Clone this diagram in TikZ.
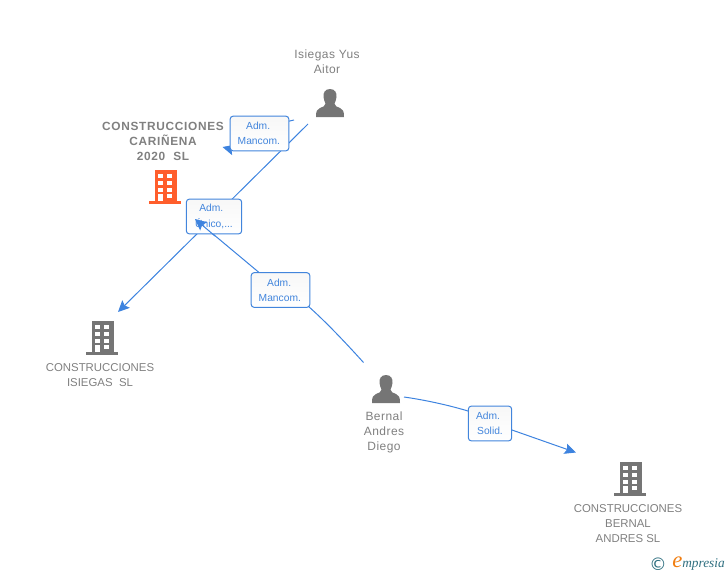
\documentclass[tikz,border=0pt]{standalone}
\usepackage{fontspec}
\setmainfont{Liberation Sans}
\newfontfamily\dejavu{DejaVu Sans}
\newfontfamily\logofont{Liberation Serif}
\newfontfamily\mixedfont[LetterSpace=3.8]{Liberation Sans}
\newfontfamily\boldspaced[LetterSpace=5.7]{Liberation Sans Bold}
\usetikzlibrary{arrows.meta}
\definecolor{linkblue}{HTML}{3D83DF}
\definecolor{labelblue}{HTML}{4285DC}
\definecolor{txtgray}{HTML}{808080}
\definecolor{icongray}{HTML}{757575}
\definecolor{orgorange}{HTML}{FF5E2C}
\definecolor{logoteal}{HTML}{2F6F80}
\definecolor{logoorange}{HTML}{F07D10}
\tikzset{
  x=0.75pt,y=-0.75pt,
  link/.style={draw=linkblue,line width=0.75pt},
  linkarrow/.style={link,-{Stealth[length=8.5pt,width=8pt,inset=1.5pt]}},
  rolebox/.style={draw=labelblue,line width=0.75pt,rounded corners=2.2pt,top color=black!3,bottom color=white,
    minimum height=26pt,inner sep=0pt,text=labelblue,font=\fontsize{7.7pt}{11.2pt}\selectfont,align=center},
  capstext/.style={text=txtgray,font=\fontsize{8.55pt}{11.25pt}\selectfont,align=center,inner sep=0pt},
  mixedtext/.style={text=txtgray,font=\mixedfont\fontsize{9pt}{11.25pt}\selectfont,align=center,inner sep=0pt},
  boldtext/.style={text=txtgray,font=\boldspaced\fontsize{8.9pt}{11.25pt}\selectfont,align=center,inner sep=0pt},
  iconanchor/.style={inner sep=0pt,minimum size=0pt},
  pics/building/.style={code={
    \fill[#1] (5.5,0) rectangle (27.5,31);
    \fill[#1] (0,31) rectangle (32,34);
    \foreach \wx in {9,18}{\foreach \wy in {4,11,18}{\fill[white] (\wx,\wy) rectangle +(5,4);}}
    \fill[white] (9,24) rectangle (14,31);
    \fill[white] (18,24) rectangle (23,28);
  }},
  pics/person/.style={code={
    \fill[icongray] (14,0) .. controls (9,0) and (7,4) .. (7.5,8) .. controls (7.8,11) and (8.8,13) .. (9.5,14.5)
      .. controls (9.5,17) and (7,18) .. (4,19) .. controls (1,20) and (0,22) .. (0,28)
      -- (28,28) .. controls (28,22) and (27,20) .. (24,19) .. controls (21,18) and (18.5,17) .. (18.5,14.5)
      .. controls (19.2,13) and (20.2,11) .. (20.5,8) .. controls (21,4) and (19,0) .. (14,0) -- cycle;
  }}
}
\begin{document}
\begin{tikzpicture}
\useasboundingbox (0,0) rectangle (728,575);
% anchors of the icons
\node[iconanchor] (isiegasyus) at (330,103) {};
\node[iconanchor] (bernaldiego) at (386,389) {};
\node[iconanchor] (carinena) at (165,187) {};
\node[iconanchor] (isiegassl) at (102,338) {};
\node[iconanchor] (bernalsl) at (630,479) {};
% connector free ends
\coordinate (a1) at (294,120);
\coordinate (a1t) at (222.5,147);
\coordinate (a2) at (308,124);
\coordinate (a2t) at (118,312);
\coordinate (a3) at (363.5,362.5);
\coordinate (a3t) at (195,219);
\coordinate (a4) at (404,397);
\coordinate (a4t) at (576,452.5);
\coordinate (m3) at (280,290);
\coordinate (m4) at (490,423);
% connectors
\draw[linkarrow] (a1) .. controls (270,124) and (245,153) .. (a1t);
\draw[linkarrow] (a2) -- (a2t);
\draw[link] (a3) .. controls (345,342) and (325,321) .. (308,306) -- (m3) -- (a3t);
\draw[link] (a4) .. controls (425,400) and (448,405) .. (468,411) -- (m4) -- (512,430);
\draw[linkarrow] (512,430) -- (a4t);
% role boxes
\node[rolebox,minimum width=44pt] (r1) at (259.5,133.5) {\raisebox{-0.7pt}{\hspace*{-2pt}Adm.}\\\raisebox{-0.7pt}{\hspace*{-1pt}Mancom.}};
\node[rolebox,minimum width=41.5pt] (r2) at (214,216.5) {\raisebox{-0.7pt}{\hspace*{-4pt}Adm.}\\\raisebox{-1.2pt}{Único,...}};
\node[rolebox,minimum width=44pt] (r3) at (280.5,290) {\raisebox{-0.7pt}{\hspace*{-2pt}Adm.}\\\raisebox{-0.7pt}{\hspace*{-1pt}Mancom.}};
\node[rolebox,minimum width=32.5pt] (r4) at (490,423.5) {\raisebox{-0.7pt}{\hspace*{-3pt}Adm.}\\\raisebox{-0.7pt}{Solid.}};
% arrowhead lying over the box
\draw[linkarrow] (215,236) -- (a3t);
% icons
\pic at (149,170) {building=orgorange};
\pic at (86,321) {building=icongray};
\pic at (614,462) {building=icongray};
\pic at (316,89) {person};
\pic at (372,375) {person};
% names
\node[mixedtext] (n1) at (327,62) {Isiegas Yus\\Aitor};
\node[boldtext] (n2) at (163,141) {CONSTRUCCIONES\\CARIÑENA\\2020\ \ SL};
\node[capstext] (n3) at (100,375.5) {CONSTRUCCIONES\\ISIEGAS\ \ SL};
\node[mixedtext] (n4) at (384,432) {Bernal\\Andres\\Diego};
\node[capstext] (n5) at (628,524) {CONSTRUCCIONES\\BERNAL\\ANDRES SL};
% logo
\node[inner sep=0pt,text=logoteal] (logoc) at (658,564) {\dejavu\fontsize{13pt}{13pt}\selectfont ©};
\node[inner sep=0pt,anchor=west,text=logoteal] (logot) at (672,564) {\logofont\itshape\fontsize{10pt}{10pt}\selectfont{\color{logoorange}\fontsize{17pt}{10pt}\selectfont e}mpresia};
\end{tikzpicture}
\end{document}
